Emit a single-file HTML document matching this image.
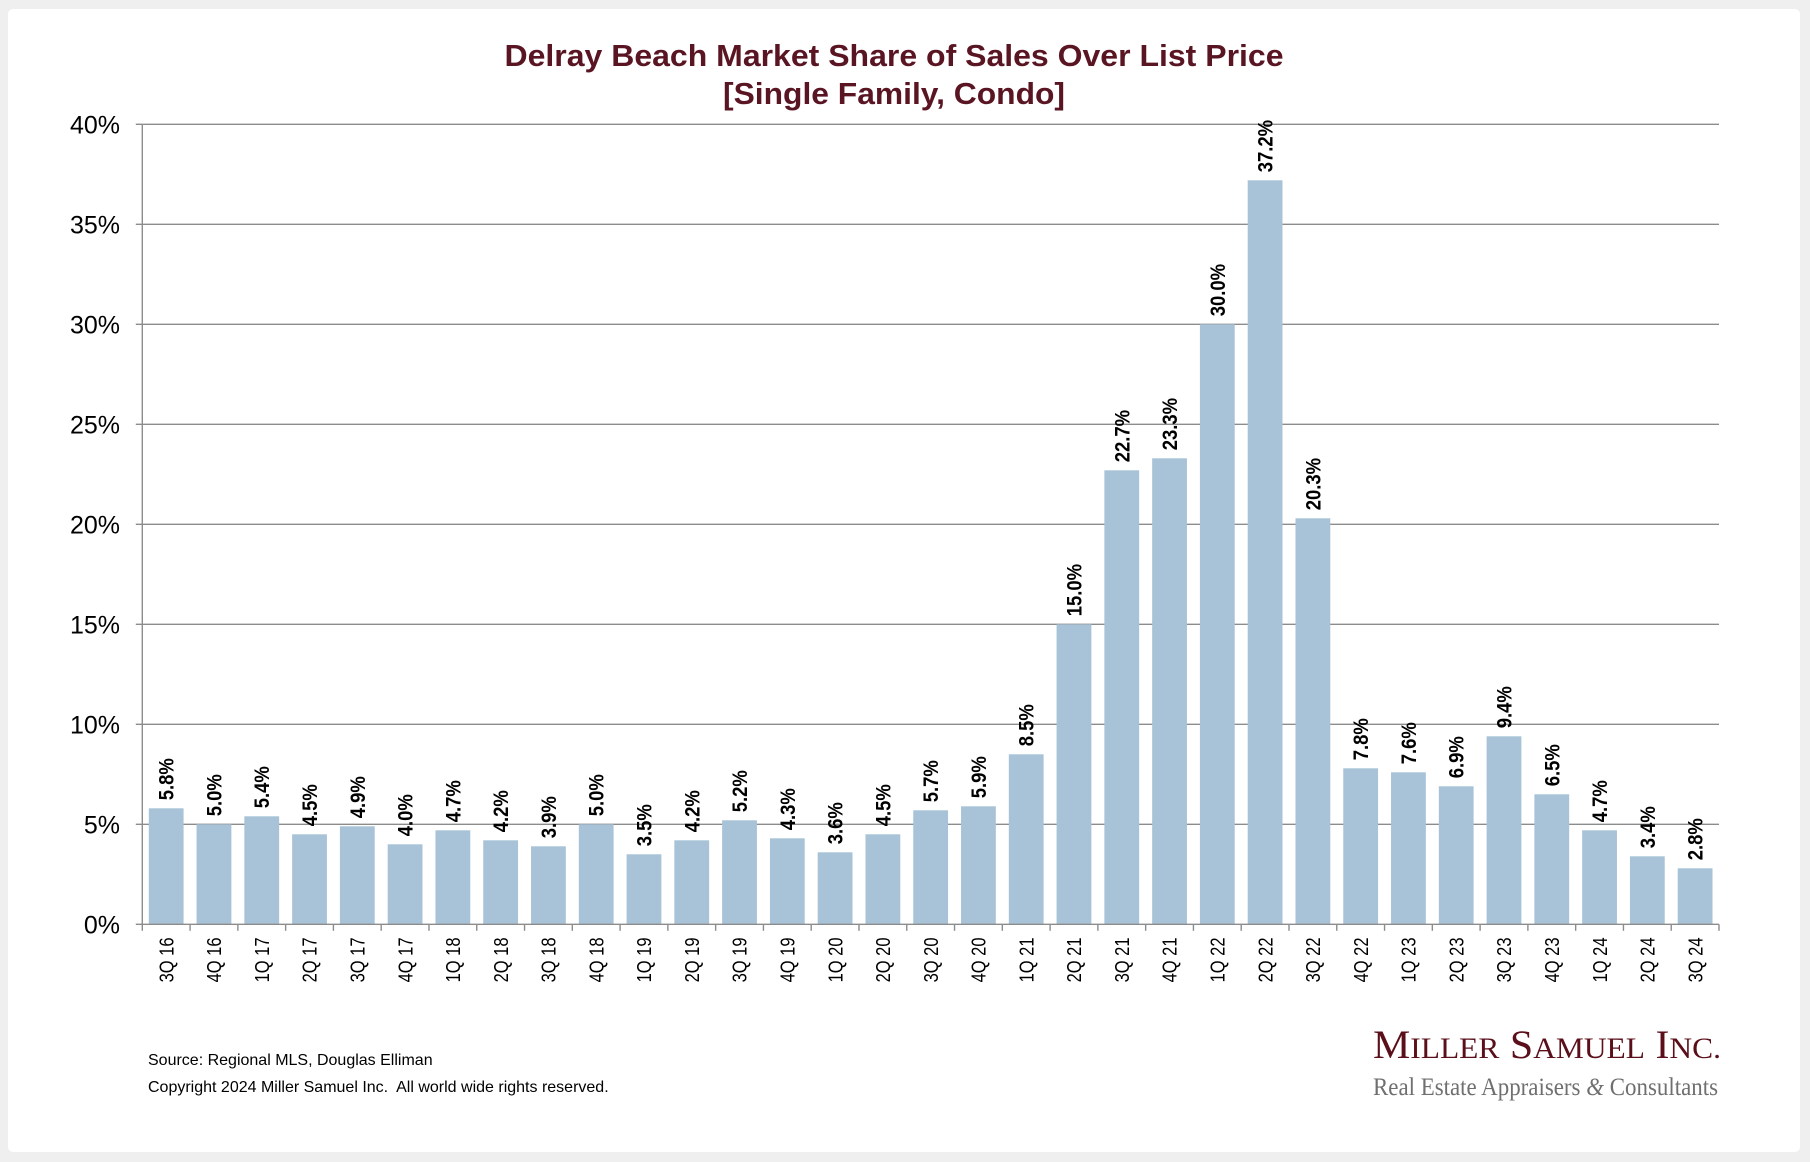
<!DOCTYPE html>
<html><head><meta charset="utf-8"><style>
html,body{margin:0;padding:0;background:#efefef;}
svg{display:block;}
</style></head><body>
<svg width="1810" height="1162" viewBox="0 0 1810 1162" xmlns="http://www.w3.org/2000/svg">
<rect x="0" y="0" width="1810" height="1162" fill="#efefef"/>
<rect x="8" y="9" width="1792" height="1143" rx="5" fill="#ffffff"/>
<g font-family="'Liberation Sans', Arial, sans-serif" font-weight="bold" fill="#5a1523" text-anchor="middle" font-size="31">
<text x="894" y="66" textLength="779" lengthAdjust="spacingAndGlyphs">Delray Beach Market Share of Sales Over List Price</text>
<text x="894" y="104" textLength="342" lengthAdjust="spacingAndGlyphs">[Single Family, Condo]</text>
</g>
<g id="grid" stroke="#8c8c8c" stroke-width="1.4"></g>
<g id="bars" fill="#a8c3d7"></g>
<g id="axes" stroke="#8c8c8c" stroke-width="1.4"></g>
<g id="ylab" font-family="'Liberation Sans', Arial, sans-serif" font-size="25" fill="#000" text-anchor="end"></g>
<g id="vlab" font-family="'Liberation Sans', Arial, sans-serif" font-size="18.5" font-weight="bold" fill="#000"></g>
<g id="xlab" font-family="'Liberation Sans', Arial, sans-serif" font-size="16.5" fill="#000"></g>
<g font-family="'Liberation Sans', Arial, sans-serif" font-size="16" fill="#000">
<text x="148" y="1065">Source: Regional MLS, Douglas Elliman</text>
<text x="148" y="1092" xml:space="preserve">Copyright 2024 Miller Samuel Inc.  All world wide rights reserved.</text>
</g>
<g font-family="'Liberation Serif', 'Times New Roman', serif">
<text x="1373" y="1058" fill="#5a0f1a" font-size="40" textLength="348" lengthAdjust="spacingAndGlyphs">M<tspan font-size="30">ILLER</tspan> S<tspan font-size="30">AMUEL</tspan> I<tspan font-size="30">NC.</tspan></text>
<text x="1373" y="1095" fill="#6f6f6f" font-size="25" textLength="345" lengthAdjust="spacingAndGlyphs">Real Estate Appraisers <tspan font-style="italic">&amp;</tspan> Consultants</text>
</g>
</svg>
<script>
(function(){
var NS="http://www.w3.org/2000/svg";
var vals=[5.8,5.0,5.4,4.5,4.9,4.0,4.7,4.2,3.9,5.0,3.5,4.2,5.2,4.3,3.6,4.5,5.7,5.9,8.5,15.0,22.7,23.3,30.0,37.2,20.3,7.8,7.6,6.9,9.4,6.5,4.7,3.4,2.8];
var labs=[];
var q=3,y=16;
for(var i=0;i<33;i++){labs.push(q+"Q "+y);q++;if(q>4){q=1;y++;}}
var x0=142.3,x1=1719,step=(x1-x0)/33,y0=924.3,k=20,bw=34.8;
function el(n,a,p,t){var e=document.createElementNS(NS,n);for(var key in a)e.setAttribute(key,a[key]);if(t!==undefined)e.textContent=t;p.appendChild(e);return e;}
var grid=document.getElementById("grid"),bars=document.getElementById("bars"),axes=document.getElementById("axes"),ylab=document.getElementById("ylab"),vlab=document.getElementById("vlab"),xlab=document.getElementById("xlab");
for(var v=5;v<=40;v+=5){var yy=y0-v*k;el("line",{x1:x0,x2:x1,y1:yy,y2:yy},grid);}
for(var v=0;v<=40;v+=5){var yy=y0-v*k;el("line",{x1:x0-6.5,x2:x0,y1:yy,y2:yy},axes);el("text",{x:120,y:yy+9},ylab,v+"%");}
el("line",{x1:x0,x2:x0,y1:y0-800,y2:y0},axes);
el("line",{x1:x0,x2:x1,y1:y0,y2:y0},axes);
for(var i=0;i<=33;i++){var xx=x0+i*step;el("line",{x1:xx,x2:xx,y1:y0,y2:y0+6.5},axes);}
for(var i=0;i<33;i++){
var cx=x0+(i+0.5)*step,top=y0-vals[i]*k;
el("rect",{x:cx-bw/2,y:top,width:bw,height:vals[i]*k},bars);
var ly=top-8;
el("text",{x:0,y:0,transform:"translate("+(cx+7.5)+" "+ly+") rotate(-90) scale(1 1.13)","text-anchor":"start"},vlab,vals[i].toFixed(1)+"%");
var xy=937.5;
el("text",{x:0,y:0,transform:"translate("+(cx+7.2)+" "+xy+") rotate(-90) scale(1 1.22)","text-anchor":"end"},xlab,labs[i]);
}
})();
</script>
</body></html>
